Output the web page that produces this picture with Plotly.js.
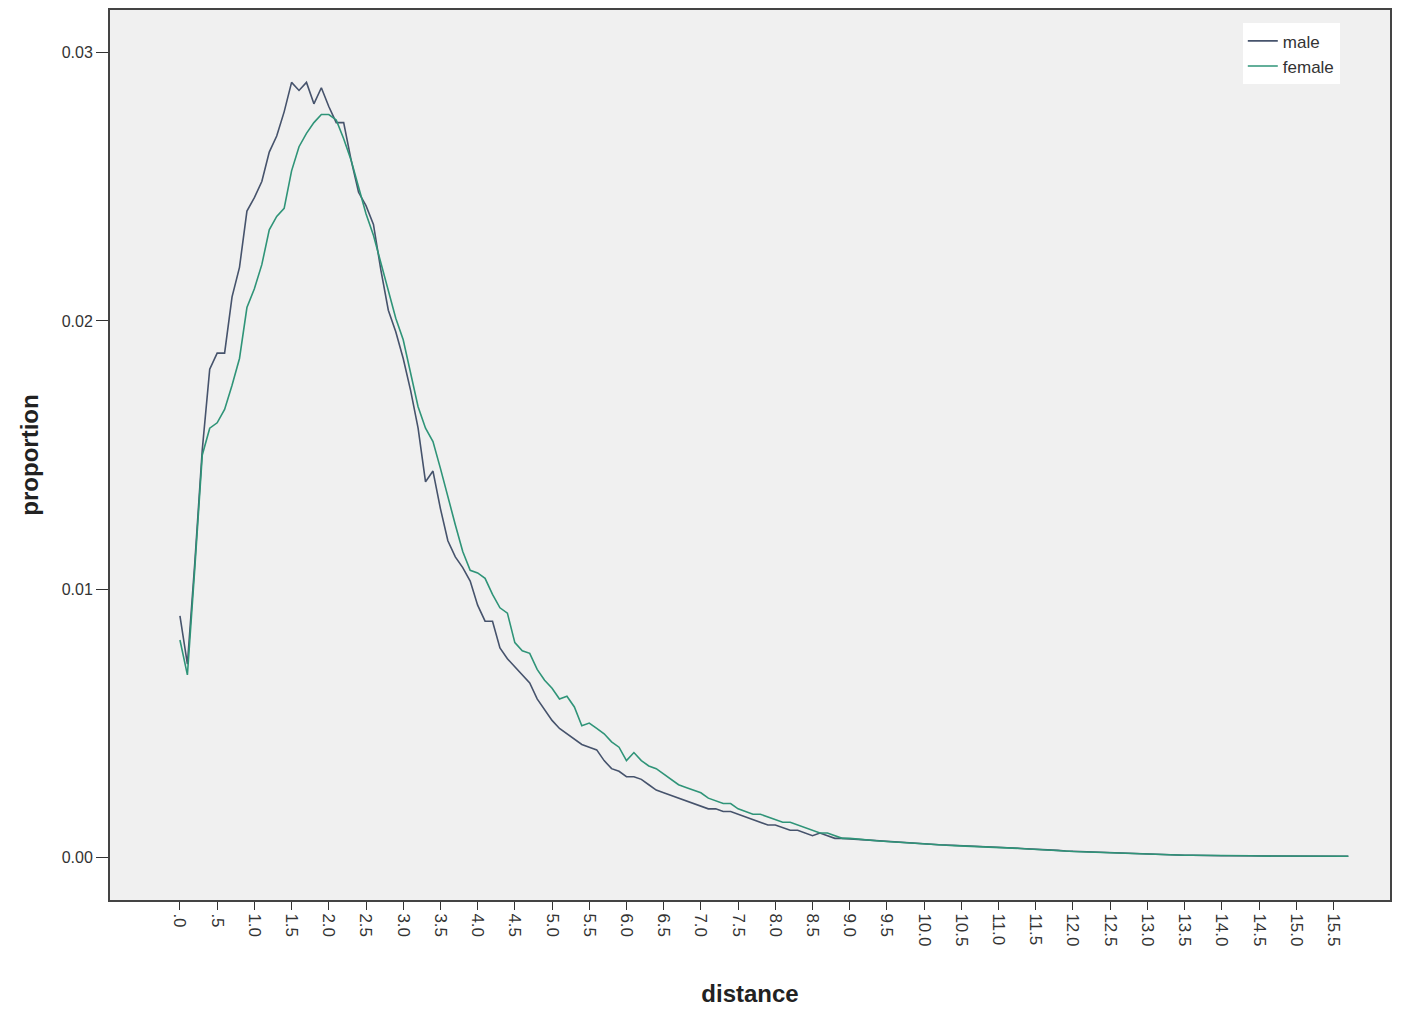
<!DOCTYPE html>
<html>
<head>
<meta charset="utf-8">
<script src="https://cdn.plot.ly/plotly-3.0.1.min.js"></script>
<style>html,body{margin:0;padding:0;background:#fff;}#chart{width:1420px;height:1013px;}</style>
</head>
<body>
<div id="chart"></div>
<script>
// distance categories, step 0.1 from 0.0 to 15.7
const distance = [];
for (let i = 0; i <= 157; i++) distance.push(+(i / 10).toFixed(1));

const male = [
  0.0090,0.0072,0.0110,0.0152,0.0182,0.0188,0.0188,0.0209,0.0220,0.0241,
  0.0246,0.0252,0.0263,0.0269,0.0278,0.0289,0.0286,0.0289,0.0281,0.0287,
  0.0280,0.0274,0.0274,0.0260,0.0248,0.0243,0.0236,0.0219,0.0204,0.0196,
  0.0186,0.0174,0.0160,0.0140,0.0144,0.0130,0.0118,0.0112,0.0108,0.0103,
  0.0094,0.0088,0.0088,0.0078,0.0074,0.0071,0.0068,0.0065,0.0059,0.0055,
  0.0051,0.0048,0.0046,0.0044,0.0042,0.0041,0.0040,0.0036,0.0033,0.0032,
  0.0030,0.0030,0.0029,0.0027,0.0025,0.0024,0.0023,0.0022,0.0021,0.0020,
  0.0019,0.0018,0.0018,0.0017,0.0017,0.0016,0.0015,0.0014,0.0013,0.0012,
  0.0012,0.0011,0.0010,0.0010,0.0009,0.0008,0.0009,0.0008,0.0007,0.0007,
  0.00068,0.00066,0.00064,0.00062,0.00060,0.00058,0.00056,0.00054,0.00052,0.00050,
  0.00049,0.00047,0.00046,0.00045,0.00044,0.00042,0.00041,0.00040,0.00039,0.00038,
  0.00037,0.00035,0.00034,0.00032,0.00031,0.00029,0.00028,0.00026,0.00025,0.00023,
  0.00022,0.00021,0.00019,0.00018,0.00016,0.00015,0.00014,0.00013,0.00012,0.00011,
  0.00010,0.00009,0.00009,0.00008,0.00008,0.00007,0.00007,0.00006,0.00006,0.00006,
  0.00005,0.00005,0.00005,0.00005,0.00004,0.00004,0.00004,0.00004,0.00004,0.00004,
  0.00004,0.00003,0.00003,0.00003,0.00003,0.00003,0.00003,0.00003
];

const female = [
  0.0081,0.0068,0.0108,0.0150,0.0160,0.0162,0.0167,0.0176,0.0186,0.0205,
  0.0212,0.0221,0.0234,0.0239,0.0242,0.0256,0.0265,0.0270,0.0274,0.0277,
  0.0277,0.0275,0.0268,0.0260,0.0250,0.0240,0.0232,0.0222,0.0212,0.0201,
  0.0193,0.0180,0.0168,0.0160,0.0155,0.0145,0.0134,0.0124,0.0114,0.0107,
  0.0106,0.0104,0.0098,0.0093,0.0091,0.0080,0.0077,0.0076,0.0070,0.0066,
  0.0063,0.0059,0.0060,0.0056,0.0049,0.0050,0.0048,0.0046,0.0043,0.0041,
  0.0036,0.0039,0.0036,0.0034,0.0033,0.0031,0.0029,0.0027,0.0026,0.0025,
  0.0024,0.0022,0.0021,0.0020,0.0020,0.0018,0.0017,0.0016,0.0016,0.0015,
  0.0014,0.0013,0.0013,0.0012,0.0011,0.0010,0.0009,0.0009,0.0008,0.0007,
  0.00070,0.00067,0.00064,0.00062,0.00060,0.00058,0.00056,0.00054,0.00052,0.00050,
  0.00048,0.00047,0.00046,0.00044,0.00043,0.00042,0.00041,0.00040,0.00038,0.00037,
  0.00036,0.00035,0.00033,0.00032,0.00030,0.00029,0.00027,0.00026,0.00024,0.00023,
  0.00021,0.00020,0.00019,0.00017,0.00016,0.00015,0.00014,0.00013,0.00012,0.00011,
  0.00010,0.00010,0.00009,0.00008,0.00008,0.00007,0.00007,0.00007,0.00006,0.00006,
  0.00005,0.00005,0.00005,0.00005,0.00005,0.00004,0.00004,0.00004,0.00004,0.00004,
  0.00004,0.00004,0.00003,0.00003,0.00003,0.00003,0.00003,0.00003
];

const tickVals = [];
const tickText = [];
for (let i = 0; i <= 31; i++) {
  const v = i * 0.5;
  tickVals.push(v);
  let s = v.toFixed(1);
  if (s.startsWith('0')) s = s.slice(1);
  tickText.push(s);
}
const yTickVals = [0, 0.01, 0.02, 0.03];
const yTickText = ['0.00', '0.01', '0.02', '0.03'];

const traces = [
  {x: distance, y: male, type: 'scatter', mode: 'lines', name: 'male',
   line: {color: '#46536c', width: 1.6}},
  {x: distance, y: female, type: 'scatter', mode: 'lines', name: 'female',
   line: {color: '#2f9478', width: 1.6}}
];

const layout = {
  width: 1420, height: 1013,
  paper_bgcolor: '#ffffff',
  plot_bgcolor: '#f0f0f0',
  margin: {l: 110, r: 30, t: 10, b: 113},
  font: {family: 'Liberation Sans, Arial, sans-serif', color: '#222'},
  showlegend: true,
  legend: {x: 0.885, y: 0.985, xanchor: 'left', yanchor: 'top',
           bgcolor: '#ffffff', borderwidth: 0, tracegroupgap: 0,
           font: {size: 17, color: '#333'}},
  xaxis: {
    range: [-0.94, 16.26],
    tickmode: 'array', tickvals: tickVals, ticktext: tickText,
    tickangle: 90, ticks: 'outside', ticklen: 8, tickcolor: '#333',
    tickfont: {size: 17, color: '#333'},
    showgrid: false, zeroline: false,
    showline: true, linecolor: '#444', linewidth: 2, mirror: true,
    title: {text: 'distance', font: {size: 24, color: '#222', weight: 'bold'}, standoff: 40}
  },
  yaxis: {
    range: [-0.0016, 0.0316],
    tickmode: 'array', tickvals: yTickVals, ticktext: yTickText,
    ticks: 'outside', ticklen: 12, tickcolor: '#333',
    tickfont: {size: 16, color: '#333'},
    showgrid: false, zeroline: false,
    showline: true, linecolor: '#444', linewidth: 2, mirror: true,
    title: {text: 'proportion', font: {size: 24, color: '#222', weight: 'bold'}, standoff: 16}
  }
};

Plotly.newPlot('chart', traces, layout, {displayModeBar: false, staticPlot: true});
</script>
</body>
</html>
